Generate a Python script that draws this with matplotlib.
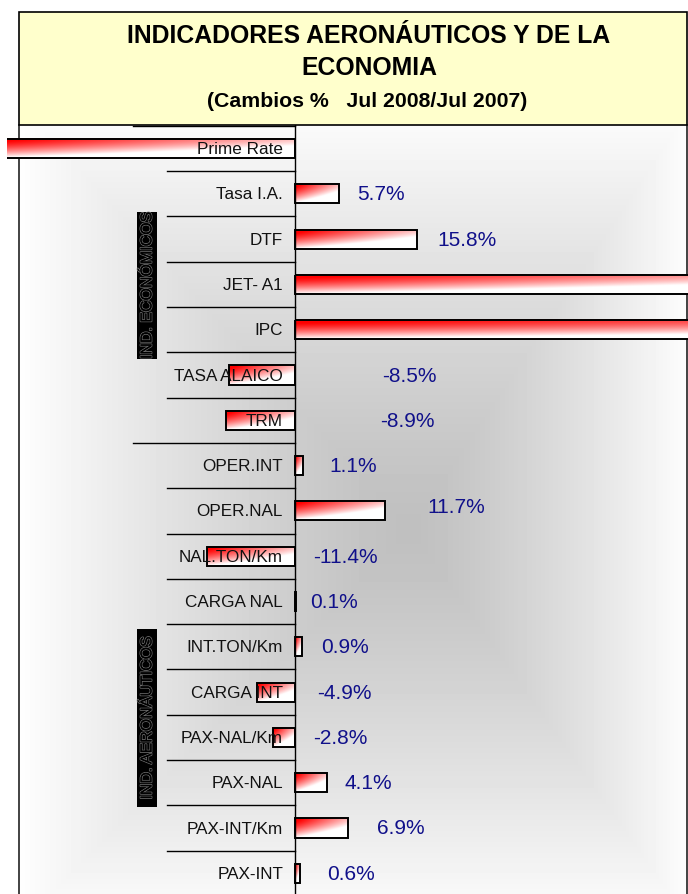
import numpy as np
import matplotlib
matplotlib.use('Agg')
from matplotlib import pyplot as plt
from matplotlib.patches import Rectangle
from matplotlib import patheffects as pe

plt.rcParams['font.family'] = ['Liberation Sans', 'DejaVu Sans']

# data (cambios %, Jul 2008 / Jul 2007)
categories = ['Prime Rate', 'Tasa I.A.', 'DTF', 'JET- A1', 'IPC', 'TASA ALAICO', 'TRM',
              'OPER.INT', 'OPER.NAL', 'NAL.TON/Km', 'CARGA NAL', 'INT.TON/Km',
              'CARGA INT', 'PAX-NAL/Km', 'PAX-NAL', 'PAX-INT/Km', 'PAX-INT']
values = [-39.4, 5.7, 15.8, 65.0, 120.0, -8.5, -8.9,
          1.1, 11.7, -11.4, 0.1, 0.9,
          -4.9, -2.8, 4.1, 6.9, 0.6]
groups = ['IND. ECONÓMICOS', 'IND. AERONÁUTICOS']

# layout: label offsets in px (from bar end, or from zero for negatives)
label_dx = [0, 18, 20, 0, 0, 87, 85, 26, 42, 18, 14, 19, 22, 18, 18, 29, 27]
label_dy = [0, 0, 0, 0, 0, 0, 0, 0, 4, 0, 0, 0, 0, 0, 0, 0, 0]

W, H = 688, 895
fig = plt.figure(figsize=(W / 100, H / 100), dpi=100)

# background layer in pixel coords
bg = fig.add_axes([0, 0, 1, 1])
bg.set_xlim(0, W)
bg.set_ylim(H, 0)
bg.axis('off')

# gray "from center" gradient of the plot area
fx0, fx1, fy0, fy1 = 19, 687, 126, 895
gx = np.arange(fx0, fx1)
gy = np.arange(fy0, fy1)
X, Y = np.meshgrid(gx, gy)
cx, cy = 410, 530
tx = np.where(X < cx, (cx - X) / 395.0, (X - cx) / 285.0)
ty = np.where(Y < cy, (cy - Y) / 430.0, (Y - cy) / 400.0)
t = np.clip(np.maximum(tx, ty), 0, 1)
shade = 0.75 + 0.25 * t ** 1.25
bg.imshow(shade, cmap='gray', vmin=0, vmax=1, extent=(fx0, fx1, fy1, fy0),
          aspect='auto', interpolation='bilinear', zorder=0)
bg.plot([fx0, fx0], [fy0, fy1], color='#222222', lw=1.2, zorder=1)
bg.plot([fx1, fx1], [fy0, fy1], color='#222222', lw=1.2, zorder=1)
bg.set_xlim(0, W)
bg.set_ylim(H, 0)

# title box
bg.add_patch(Rectangle((19, 13), 668, 113, facecolor='#FFFFCC', edgecolor='black', lw=1.2, zorder=2))
bg.text(369, 36, 'INDICADORES AERONÁUTICOS Y DE LA', ha='center', va='center',
        fontsize=17.8, fontweight='bold', zorder=3)
bg.text(369, 68, 'ECONOMIA', ha='center', va='center', fontsize=17.8, fontweight='bold', zorder=3)
bg.text(367, 101, '(Cambios %   Jul 2008/Jul 2007)', ha='center', va='center',
        fontsize=15.3, fontweight='bold', zorder=3)

# group boxes
for (y0, y1), name in zip([(213, 360), (630, 808)], groups):
    bg.add_patch(Rectangle((137, y0), 20, y1 - y0, facecolor='black', edgecolor='none', zorder=2))
    txt = bg.text(147, (y0 + y1) / 2, name, rotation=90, ha='center', va='center',
                  fontsize=11.5, color='black', zorder=3)
    txt.set_path_effects([pe.withStroke(linewidth=1.2, foreground='#707070'), pe.Normal()])

# main chart axes
ax_l, ax_r, ax_t = 7, 688, 126
ax = fig.add_axes([ax_l / W, 0, (ax_r - ax_l) / W, (H - ax_t) / H])
ax.set_facecolor('none')
ax.axis('off')
ppu = 7.72  # px per percent
xmin = -(295 - ax_l) / ppu
xmax = (ax_r - 295) / ppu
row0, step = 149.5, 45.3
ymin = (ax_t - row0) / step
ymax = (H - row0) / step


def px2x(px):
    return xmin + (px - ax_l) / ppu


ypos = np.arange(len(categories))
bars = ax.barh(ypos, values, height=0.42, facecolor='none', edgecolor='black',
               linewidth=1.4, zorder=4)

# red-white gradient fill for each bar
gr_y = np.linspace(0, 1, 40)[:, None]
gr_x = np.linspace(0, 1, 200)[None, :]
wv = np.clip(1.1 * gr_y ** 1.5 + 0.85 * gr_x - 0.1, 0, 1)
grad = np.dstack([np.ones_like(wv), wv, wv])
for b in bars:
    x0, w = b.get_x(), b.get_width()
    yb, h = b.get_y(), b.get_height()
    left, right = min(x0, x0 + w), max(x0, x0 + w)
    ax.imshow(grad, extent=(left, right, yb + h, yb), aspect='auto',
              interpolation='bilinear', zorder=3)

ax.axvline(0, color='black', lw=1.0, zorder=5)

# separators between categories
for i in range(-1, len(categories) - 1):
    start = 133 if i in (-1, 6) else 167
    ax.plot([px2x(start), 0], [i + 0.5, i + 0.5], color='black', lw=1.0, zorder=2)

# category labels
for i, name in enumerate(categories):
    ax.annotate(name, xy=(0, i), xytext=(-12, 0), textcoords='offset pixels',
                ha='right', va='center', fontsize=12.3, color='#111111', zorder=6)

# value labels
for i, (v, dx, dy) in enumerate(zip(values, label_dx, label_dy)):
    if v < xmin or v > xmax:
        continue
    ax.annotate(f'{v:.1f}%', xy=(max(v, 0), i), xytext=(dx, dy), textcoords='offset pixels',
                ha='left', va='center', fontsize=15, color='#10108A', zorder=6)

ax.set_xlim(xmin, xmax)
ax.set_ylim(ymax, ymin)

fig.savefig('out.png', dpi=100)
